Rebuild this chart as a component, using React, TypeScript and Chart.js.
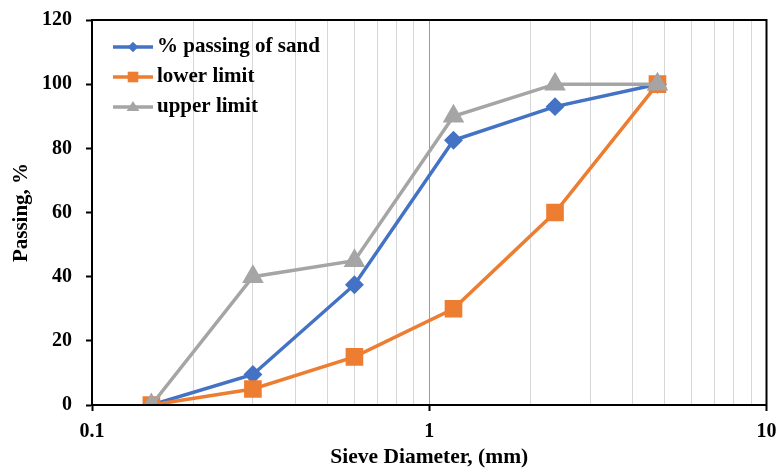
import React, { useEffect, useRef } from "react";
import { Chart, registerables } from "chart.js";

Chart.register(...registerables);

const sieveSizes = [0.15, 0.3, 0.6, 1.18, 2.36, 4.75];
const sandPassing = [0, 9.5, 37.5, 82.5, 93, 100];
const lowerLimit = [0, 5, 15, 30, 60, 100];
const upperLimit = [0, 40, 45, 90, 100, 100];
const seriesLabels = ["% passing of sand", "lower limit", "upper limit"];
const seriesColors = ["#4472C4", "#ED7D31", "#A5A5A5"];
const xGridValues = [
  0.1, 0.2, 0.3, 0.4, 0.5, 0.6, 0.7, 0.8, 0.9,
  1, 2, 3, 4, 5, 6, 7, 8, 9, 10,
];
const xTickLabels = ["0.1", "1", "10"];
const yTicks = [0, 20, 40, 60, 80, 100, 120];

const FONT = "'Times New Roman', 'Liberation Serif', serif";

const isMajor = (v: number) =>
  Math.abs(Math.log10(v) - Math.round(Math.log10(v))) < 1e-6;

function drawMarker(ctx: CanvasRenderingContext2D, style: string, x: number, y: number, r: number) {
  ctx.beginPath();
  if (style === "rectRot") {
    ctx.moveTo(x, y - r);
    ctx.lineTo(x + r, y);
    ctx.lineTo(x, y + r);
    ctx.lineTo(x - r, y);
  } else if (style === "rect") {
    const s = Math.SQRT1_2 * r;
    ctx.rect(x - s, y - s, 2 * s, 2 * s);
  } else {
    const h = r * 1.5;
    ctx.moveTo(x, y - h * 0.6);
    ctx.lineTo(x + r * 0.95, y + h * 0.4);
    ctx.lineTo(x - r * 0.95, y + h * 0.4);
  }
  ctx.closePath();
  ctx.fill();
}

const framePlugin = {
  id: "frame",
  afterDraw(chart: any) {
    const { ctx, chartArea } = chart;
    ctx.save();
    ctx.strokeStyle = "#000";
    ctx.lineWidth = 2;
    ctx.strokeRect(chartArea.left, chartArea.top, chartArea.right - chartArea.left, chartArea.bottom - chartArea.top);
    ctx.restore();
  },
};

const legendPlugin = {
  id: "innerLegend",
  afterDraw(chart: any) {
    const { ctx, chartArea } = chart;
    const ds = chart.data.datasets;
    ctx.save();
    ds.forEach((d: any, i: number) => {
      const y = chartArea.top + 27 + i * 30;
      const x0 = chartArea.left + 21;
      ctx.strokeStyle = d.borderColor;
      ctx.lineWidth = 3.5;
      ctx.beginPath();
      ctx.moveTo(x0, y);
      ctx.lineTo(x0 + 40, y);
      ctx.stroke();
      ctx.fillStyle = d.borderColor;
      drawMarker(ctx, d.pointStyle, x0 + 20, y, d.pointRadius * 0.75);
      ctx.fillStyle = "#000";
      ctx.font = `bold 21px ${FONT}`;
      ctx.textBaseline = "middle";
      ctx.textAlign = "left";
      ctx.fillText(d.label, x0 + 44, y);
    });
    ctx.restore();
  },
};

export default function App() {
  const ref = useRef<HTMLCanvasElement>(null);
  useEffect(() => {
    if (!ref.current) return;
    const mk = (vals: number[]) => sieveSizes.map((x, i) => ({ x, y: vals[i] }));
    const chart = new Chart(ref.current, {
      type: "line",
      data: {
        datasets: [
          {
            label: seriesLabels[0],
            data: mk(sandPassing),
            borderColor: seriesColors[0],
            backgroundColor: seriesColors[0],
            pointStyle: "rectRot",
            pointRadius: 7,
            borderWidth: 3.5,
            order: 2,
          },
          {
            label: seriesLabels[1],
            data: mk(lowerLimit),
            borderColor: seriesColors[1],
            backgroundColor: seriesColors[1],
            pointStyle: "rect",
            pointRadius: 10,
            borderWidth: 3.5,
            order: 1,
          },
          {
            label: seriesLabels[2],
            data: mk(upperLimit),
            borderColor: seriesColors[2],
            backgroundColor: seriesColors[2],
            pointStyle: "triangle",
            pointRadius: 9,
            borderWidth: 3.5,
            order: 0,
          },
        ] as any,
      },
      options: {
        responsive: false,
        animation: false,
        layout: { padding: { left: 0, top: 20, right: 10, bottom: 0 } },
        plugins: { legend: { display: false }, tooltip: { enabled: false } },
        elements: { line: { tension: 0 } },
        scales: {
          x: {
            type: "logarithmic",
            min: 0.1,
            max: 10,
            afterBuildTicks: (scale: any) => {
              scale.ticks = xGridValues.map((v) => ({ value: v, major: isMajor(v) }));
            },
            afterFit: (scale: any) => {
              scale.height = 63;
              scale.paddingLeft = 0;
              scale.paddingRight = 0;
            },
            ticks: {
              autoSkip: false,
              maxRotation: 0,
              minRotation: 0,
              padding: 9,
              color: "#000",
              font: { family: FONT, size: 20, weight: "bold" },
              callback: (value: any) => {
                const v = Number(value);
                if (!isMajor(v)) return "";
                const idx = Math.round(Math.log10(v)) + 1;
                return xTickLabels[idx];
              },
            },
            grid: {
              color: (c: any) => (c.tick && isMajor(c.tick.value) ? "#9a9a9a" : "#d6d6d6"),
              tickColor: (c: any) => (c.tick && isMajor(c.tick.value) ? "#000" : "rgba(0,0,0,0)"),
              tickLength: 6,
              lineWidth: 1,
              tickWidth: 2,
            },
            border: { display: true, color: "#000", width: 2 },
            title: {
              display: true,
              text: "Sieve Diameter, (mm)",
              color: "#000",
              font: { family: FONT, size: 21.5, weight: "bold", lineHeight: 1 },
              padding: { top: 0, bottom: 0 },
            },
          },
          y: {
            min: 0,
            max: 120,
            afterBuildTicks: (scale: any) => {
              scale.ticks = yTicks.map((v) => ({ value: v }));
            },
            afterFit: (scale: any) => {
              scale.width = 92;
              scale.paddingTop = 0;
              scale.paddingBottom = 0;
            },
            ticks: {
              stepSize: 20,
              padding: 14,
              color: "#000",
              font: { family: FONT, size: 20, weight: "bold" },
            },
            grid: {
              drawOnChartArea: false,
              drawTicks: true,
              tickLength: 6,
              tickColor: "#000",
              tickWidth: 2,
            },
            border: { display: true, color: "#000", width: 2 },
            title: {
              display: true,
              text: "Passing, %",
              color: "#000",
              font: { family: FONT, size: 21, weight: "bold" },
              padding: { top: 9, bottom: 0 },
            },
          },
        },
      },
      plugins: [framePlugin, legendPlugin],
    });
    return () => chart.destroy();
  }, []);
  return (
    <div style={{ position: "fixed", left: 0, top: 0, width: 780, height: 468, background: "#fff" }}>
      <canvas ref={ref} width={780} height={468} />
    </div>
  );
}
